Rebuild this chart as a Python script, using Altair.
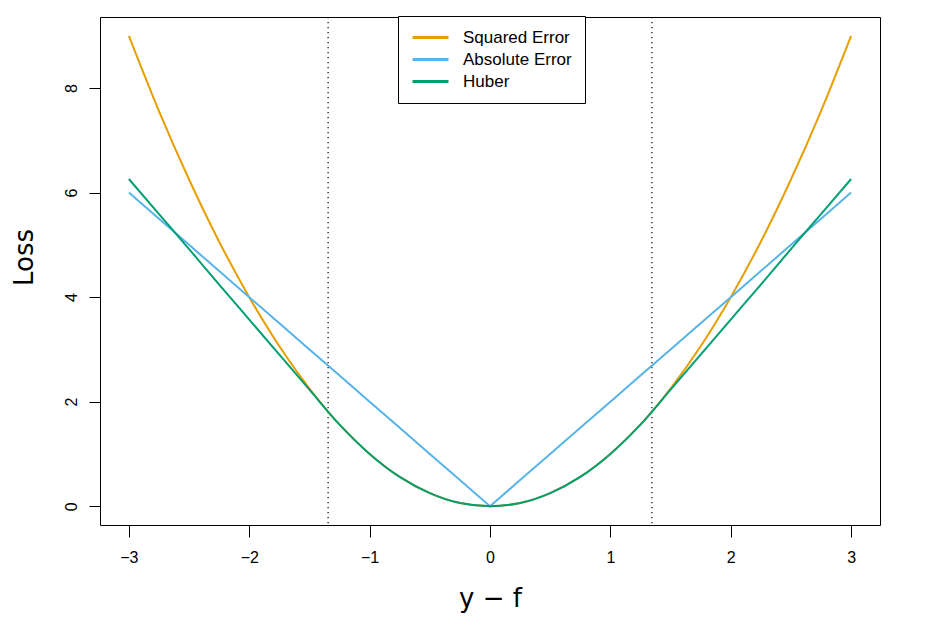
import altair as alt
import pandas as pd

# x grid for the three loss curves (y - f)
xs = [-3, -2.75, -2.5, -2.25, -2, -1.75, -1.5, -1.25, -1, -0.75, -0.5, -0.25, 0,
      0.25, 0.5, 0.75, 1, 1.25, 1.5, 1.75, 2, 2.25, 2.5, 2.75, 3]
squared = [9.0, 7.56, 6.25, 5.06, 4.0, 3.06, 2.25, 1.56, 1.0, 0.56, 0.25, 0.06, 0.0,
           0.06, 0.25, 0.56, 1.0, 1.56, 2.25, 3.06, 4.0, 5.06, 6.25, 7.56, 9.0]
absolute = [6.0, 5.5, 5.0, 4.5, 4.0, 3.5, 3.0, 2.5, 2.0, 1.5, 1.0, 0.5, 0.0,
            0.5, 1.0, 1.5, 2.0, 2.5, 3.0, 3.5, 4.0, 4.5, 5.0, 5.5, 6.0]
huber = [6.26, 5.59, 4.92, 4.24, 3.57, 2.90, 2.23, 1.56, 1.0, 0.56, 0.25, 0.06, 0.0,
         0.06, 0.25, 0.56, 1.0, 1.56, 2.23, 2.90, 3.57, 4.24, 4.92, 5.59, 6.26]
series_names = ["Squared Error", "Absolute Error", "Huber"]
series_colors = ["#E69F00", "#56B4E9", "#009E73"]
thresholds = [-1.345, 1.345]
x_ticks = [-3, -2, -1, 0, 1, 2, 3]
y_ticks = [0, 2, 4, 6, 8]

rows = []
for name, vals in zip(series_names, [squared, absolute, huber]):
    for x, v in zip(xs, vals):
        rows.append({"x": x, "loss": v, "series": name})
df = pd.DataFrame(rows)
df_thr = pd.DataFrame({"t": thresholds})

W, H = 780, 508
xscale = alt.Scale(domain=[-3.24, 3.24], nice=False, zero=False)
yscale = alt.Scale(domain=[-0.36, 9.36], nice=False, zero=False)
color = alt.Color(
    "series:N",
    scale=alt.Scale(domain=series_names, range=series_colors),
    sort=series_names,
    legend=alt.Legend(
        orient="none", legendX=298, legendY=-1, title=None,
        symbolType="stroke", symbolSize=1296, symbolStrokeWidth=3,
        labelFont="Liberation Sans", labelFontSize=17, labelColor="black",
        labelOffset=13, padding=13, rowPadding=4, clipHeight=17,
        strokeColor="black", fillColor="white",
    ),
)

xaxis = alt.Axis(
    values=x_ticks, format="d", title="y − f", domain=False, grid=False,
    tickSize=12, tickColor="black", labelFont="Liberation Sans",
    labelFontSize=16, labelColor="black", labelPadding=12,
    titleFont="DejaVu Sans", titleFontSize=26, titleFontWeight="normal",
    titleColor="black", titleBaseline="alphabetic", titleY=81,
)
yaxis = alt.Axis(
    values=y_ticks, format="d", title="Loss", domain=False, grid=False,
    tickSize=11, tickColor="black", labelFont="Liberation Sans",
    labelFontSize=16, labelColor="black", labelAngle=-90,
    labelAlign="center", labelBaseline="bottom", labelPadding=10,
    titleFont="DejaVu Sans", titleFontSize=26, titleFontWeight="normal",
    titleColor="black", titleAngle=-90, titleBaseline="alphabetic",
    titleAlign="center", titleX=-68, titleY=240,
)

base = alt.Chart(df).encode(
    x=alt.X("x:Q", scale=xscale, axis=xaxis),
    y=alt.Y("loss:Q", scale=yscale, axis=yaxis),
    color=color,
)

sq = base.transform_filter(alt.datum.series == "Squared Error").mark_line(
    strokeWidth=2, interpolate="monotone")
ab = base.transform_filter(alt.datum.series == "Absolute Error").mark_line(
    strokeWidth=2, interpolate="linear")
hu = base.transform_filter(alt.datum.series == "Huber").mark_line(
    strokeWidth=2, interpolate="monotone")

rules = alt.Chart(df_thr).mark_rule(
    color="black", strokeWidth=1.2, strokeDash=[1.2, 3.8]
).encode(x=alt.X("t:Q", scale=xscale))

chart = alt.layer(rules, sq, ab, hu).properties(
    width=W, height=H,
    autosize=alt.AutoSizeParams(type="none"),
    padding={"left": 100, "top": 17, "right": 63, "bottom": 102},
    background="white",
).configure_view(stroke="black", strokeWidth=1)

chart.save("out.html", embed_options={"renderer": "svg", "actions": False})
